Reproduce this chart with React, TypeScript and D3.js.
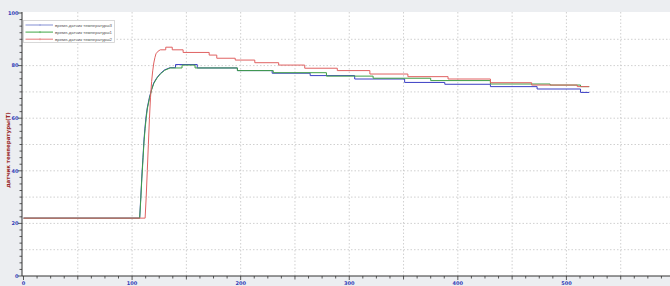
import { useRef, useEffect } from "react";
import * as d3 from "d3";

// time (s) / temperature points
const seriesNames = [
  "время-датчик температуры3",
  "время-датчик температуры1",
  "время-датчик температуры2",
];
const seriesColors = ["#3b3fc4", "#3f9f46", "#e06262"];
const legendColors = ["#8f99d8", "#4fae55", "#e68585"];

const sensor3: [number, number][] = [
  [0, 22], [107, 22], [108, 30], [109, 38], [110, 45], [111, 52], [112, 57], [113, 61],
  [114, 64], [116, 68], [118, 71], [120, 73.5], [123, 75.5], [126, 77], [130, 78.4],
  [135, 79.2], [140, 80.4], [160, 79.1], [197, 78.1], [229, 77.1], [264, 76.2],
  [305, 74.9], [351, 73.6], [388, 72.9], [430, 72.0], [473, 71.1], [513, 69.8], [521, 69.8],
];
const sensor1: [number, number][] = [
  [0, 22], [107, 22], [108, 29], [109, 37], [110, 44], [111, 51], [112, 56], [113, 60],
  [114, 63.5], [116, 67.5], [118, 70.8], [120, 73.2], [123, 75.3], [126, 76.8], [130, 78.2],
  [135, 79.1], [146, 80.2], [158, 79.1], [197, 78.1], [230, 77.3], [279, 76.0],
  [322, 75.2], [375, 74.3], [430, 73.0], [485, 72.6], [513, 72.0], [521, 72.0],
];
const sensor2: [number, number][] = [
  [0, 22], [112, 22], [113, 30], [114, 40], [115, 50], [116, 60], [117, 68], [118, 74],
  [119, 78], [120, 81], [121, 83], [122, 84.5], [124, 85.5], [126, 86], [131, 87],
  [137, 86], [147, 85], [171, 84], [178, 82.8], [195, 82.1], [213, 81.1], [235, 80.2],
  [259, 79.0], [289, 78.1], [319, 76.8], [354, 75.8], [391, 74.9], [430, 73.5],
  [468, 72.6], [510, 72.0], [521, 72.0],
];
const allSeries = [sensor3, sensor1, sensor2];
// heating ramp is smooth, after this time the recorder holds values (steps)
const rampEnd = [135, 135, 126];

const xMajorTicks = [0, 100, 200, 300, 400, 500];
const yMajorTicks = [0, 20, 40, 60, 80, 100];
const yTitle = "датчик температуры(Т)";

// linear through the ramp, step-after once the plateau starts
function withSteps(pts: [number, number][], from: number): [number, number][] {
  const out: [number, number][] = [];
  pts.forEach((p, i) => {
    const prev = pts[i - 1];
    if (prev && (prev[0] >= from || i === 1)) out.push([p[0], prev[1]]);
    out.push(p);
  });
  return out;
}

export default function App() {
  const svgRef = useRef<SVGSVGElement>(null);

  useEffect(() => {
    document.body.style.margin = "0";
    if (!svgRef.current) return;
    const width = 670;
    const height = 286;
    const svg = d3.select(svgRef.current);
    svg.selectAll("*").remove();
    svg.attr("width", width).attr("height", height);

    const x = d3.scaleLinear().domain([0, 600]).range([23.5, 675]);
    const y = d3.scaleLinear().domain([0, 100]).range([276, 13]);
    const left = 22, top = 12, bottom = 276;

    svg.append("rect").attr("width", width).attr("height", height).attr("fill", "#eceef1");
    svg.append("rect")
      .attr("x", left).attr("y", top)
      .attr("width", width - left).attr("height", bottom - top)
      .attr("fill", "#ffffff");

    svg.append("defs").append("clipPath").attr("id", "plotclip")
      .append("rect").attr("x", left).attr("y", top)
      .attr("width", width - left).attr("height", bottom - top);

    // grid
    const grid = svg.append("g").attr("stroke", "#c4c4c4").attr("stroke-width", 0.8)
      .attr("stroke-dasharray", "1.5,2");
    grid.selectAll("line.gx")
      .data(d3.range(50, 600, 50))
      .join("line")
      .attr("class", "gx")
      .attr("x1", (d) => x(d)).attr("x2", (d) => x(d))
      .attr("y1", top).attr("y2", bottom);
    grid.selectAll("line.gy")
      .data(d3.range(10, 100, 10))
      .join("line")
      .attr("class", "gy")
      .attr("x1", left).attr("x2", width)
      .attr("y1", (d) => y(d)).attr("y2", (d) => y(d));

    // series
    const line = d3.line<[number, number]>()
      .x((d) => x(d[0]))
      .y((d) => y(d[1]));
    svg.append("g").attr("clip-path", "url(#plotclip)")
      .selectAll("path")
      .data(allSeries)
      .join("path")
      .attr("d", (d, i) => line(withSteps(d, rampEnd[i])))
      .attr("fill", "none")
      .attr("stroke", (_d, i) => seriesColors[i])
      .attr("stroke-width", 1);

    // axes
    const axisColor = "#333";
    svg.append("line").attr("x1", left).attr("x2", width).attr("y1", bottom).attr("y2", bottom)
      .attr("stroke", axisColor).attr("stroke-width", 1);
    svg.append("line").attr("x1", left).attr("x2", left).attr("y1", top).attr("y2", bottom)
      .attr("stroke", axisColor).attr("stroke-width", 1);

    svg.append("g").selectAll("line")
      .data(d3.range(0, 600, 12.5))
      .join("line")
      .attr("x1", (d) => x(d)).attr("x2", (d) => x(d))
      .attr("y1", bottom)
      .attr("y2", (d) => bottom + (d % 100 === 0 ? 4 : d % 50 === 0 ? 3.5 : 2.5))
      .attr("stroke", axisColor).attr("stroke-width", 0.8);
    svg.append("g").selectAll("line")
      .data(d3.range(0, 100.1, 2.5))
      .join("line")
      .attr("y1", (d) => y(d)).attr("y2", (d) => y(d))
      .attr("x1", left)
      .attr("x2", (d) => left - (d % 20 === 0 ? 4 : 2.5))
      .attr("stroke", axisColor).attr("stroke-width", 0.8);

    const labelFont = "'DejaVu Sans', sans-serif";
    svg.append("g").selectAll("text")
      .data(xMajorTicks)
      .join("text")
      .attr("x", (d) => x(d)).attr("y", 284.5)
      .attr("text-anchor", "middle")
      .attr("font-size", "5px").attr("font-weight", "700")
      .attr("font-family", labelFont).attr("fill", "#2f3db8")
      .text((d) => d);
    svg.append("g").selectAll("text")
      .data(yMajorTicks)
      .join("text")
      .attr("x", 18.5).attr("y", (d) => y(d))
      .attr("dy", "0.35em")
      .attr("text-anchor", "end")
      .attr("font-size", "5px").attr("font-weight", "700")
      .attr("font-family", labelFont).attr("fill", "#2f3db8")
      .text((d) => d);

    svg.append("text")
      .attr("transform", `translate(8.5,150) rotate(-90)`)
      .attr("text-anchor", "middle")
      .attr("dominant-baseline", "middle")
      .attr("font-size", "5.5px").attr("font-weight", "700")
      .attr("font-family", labelFont).attr("fill", "#9a2a2a")
      .text(yTitle);

    // legend
    const lg = svg.append("g");
    lg.append("rect")
      .attr("x", 23.5).attr("y", 20.5).attr("width", 91).attr("height", 22)
      .attr("fill", "#ffffff").attr("stroke", "#cfcfcf").attr("stroke-width", 0.8);
    const rows = lg.selectAll("g")
      .data(seriesNames)
      .join("g")
      .attr("transform", (_d, i) => `translate(0,${25 + i * 7.1})`);
    rows.append("line")
      .attr("x1", 25.5).attr("x2", 53)
      .attr("stroke", (_d, i) => legendColors[i]).attr("stroke-width", 1.1);
    rows.append("line")
      .attr("x1", 40).attr("x2", 40).attr("y1", -1).attr("y2", 1)
      .attr("stroke", (_d, i) => legendColors[i]).attr("stroke-width", 0.8);
    rows.append("text")
      .attr("x", 55).attr("dy", "0.35em")
      .attr("font-size", "4.3px")
      .attr("font-family", "'Liberation Sans', sans-serif").attr("fill", "#555")
      .text((d) => d);
  }, []);

  return <svg ref={svgRef} style={{ display: "block" }} />;
}
